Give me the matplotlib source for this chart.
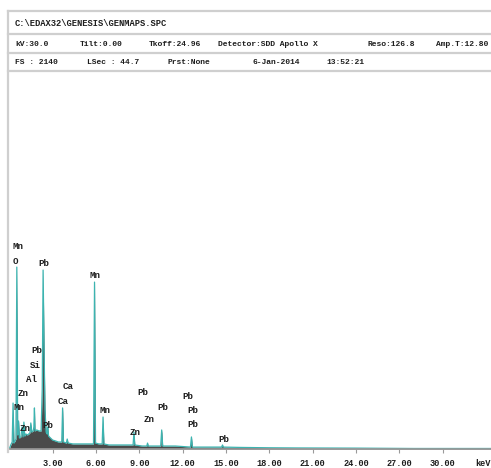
import numpy as np
import matplotlib
matplotlib.use("Agg")
import matplotlib.pyplot as plt
from matplotlib.lines import Line2D

# spectrum (keV, counts)
energy = [0.00, 0.10, 0.20, 0.26, 0.32, 0.40, 0.46, 0.52, 0.58, 0.64, 0.70, 0.80,
          0.88, 0.95, 1.01, 1.07, 1.15, 1.25, 1.35, 1.43, 1.49, 1.55, 1.65, 1.70,
          1.74, 1.78, 1.90, 2.05, 2.20, 2.28, 2.34, 2.40, 2.47, 2.55, 2.62, 2.66,
          2.72, 2.85, 3.00, 3.20, 3.40, 3.63, 3.69, 3.75, 3.95, 4.01, 4.07, 4.40,
          4.80, 5.20, 5.60, 5.83, 5.90, 5.97, 6.20, 6.43, 6.49, 6.55, 6.90, 7.50,
          8.00, 8.57, 8.63, 8.69, 9.20, 9.52, 9.57, 9.62, 10.10, 10.48, 10.55, 10.62,
          11.50, 12.54, 12.61, 12.68, 13.50, 14.70, 14.76, 14.82, 16.00, 18.00, 20.00,
          24.00, 28.00, 33.40]
counts = [0, 23, 40, 263, 34, 46, 57, 1041, 80, 160, 63, 69,
          126, 69, 154, 74, 86, 80, 86, 92, 149, 97, 103, 126,
          235, 103, 109, 103, 103, 343, 1024, 629, 229, 97, 86, 126,
          74, 63, 51, 46, 40, 40, 235, 40, 34, 57, 34, 29,
          29, 29, 29, 29, 955, 34, 29, 29, 183, 29, 23, 23,
          23, 23, 97, 23, 17, 17, 34, 17, 17, 17, 109, 17,
          17, 11, 69, 11, 11, 11, 23, 11, 9, 7, 6,
          5, 3, 3]

# peak labels: (element, keV, counts)
labels = [("Mn", 0.60, 1161), ("O", 0.39, 1070), ("Pb", 2.40, 1064), ("Mn", 5.93, 995),
          ("Pb", 1.92, 561), ("Si", 1.78, 475), ("Al", 1.57, 395), ("Zn", 0.95, 315),
          ("Mn", 0.67, 235), ("Zn", 1.09, 120), ("Pb", 2.68, 132), ("Ca", 4.06, 355),
          ("Ca", 3.72, 269), ("Mn", 6.63, 223), ("Zn", 8.70, 92), ("Pb", 9.26, 326),
          ("Zn", 9.67, 166), ("Pb", 10.64, 240), ("Pb", 12.37, 303), ("Pb", 12.72, 223),
          ("Pb", 12.72, 143), ("Pb", 14.86, 57)]

tick_values = [3, 6, 9, 12, 15, 18, 21, 24, 27, 30]
full_scale = 2140

header_rows = [
    [("C:\\EDAX32\\GENESIS\\GENMAPS.SPC", 15)],
    [("kV:30.0", 15), ("Tilt:0.00", 80), ("Tkoff:24.96", 149),
     ("Detector:SDD Apollo X", 218), ("Reso:126.8", 367), ("Amp.T:12.80", 436)],
    [("FS : 2140", 15), ("LSec : 44.7", 87), ("Prst:None", 168),
     ("6-Jan-2014", 252), ("13:52:21", 326)],
]

W, H = 491, 468
fig = plt.figure(figsize=(W / 100, H / 100), dpi=100)
mono = "Liberation Mono"
grey = "#cfcfcf"
ink = "#1e1e1e"

def fx(px):
    return px / W

def fy(py):
    return 1 - py / H

# header box
for py in [11, 34, 53, 71]:
    fig.add_artist(Line2D([fx(8), 1.0], [fy(py), fy(py)], color=grey, lw=1.6))
fig.add_artist(Line2D([fx(8), fx(8)], [fy(11), fy(452)], color=grey, lw=1.6))

row_y = [24, 44, 63]
sizes = [6.3, 5.8, 5.8]
for row, py, fs in zip(header_rows, row_y, sizes):
    for txt, px in row:
        fig.text(fx(px), fy(py), txt, family=mono, weight="bold", fontsize=fs,
                 color=ink, va="center", ha="left")

# spectrum axes
x0 = 9.3
ax = fig.add_axes([fx(x0), fy(449), 1 - fx(x0), fy(75) - fy(449)])
ax.fill_between(energy, counts, 0, color="#4a4a4a", lw=0)
ax.plot(energy, counts, color="#3cb4b0", lw=0.9)
ax.set_xlim(0, (W - x0) / 14.444)
ax.set_ylim(0, full_scale)

for name, e, c in labels:
    ax.text(e, c, name, family=mono, weight="bold", fontsize=6.6, color=ink,
            ha="center", va="center")

for s in ["top", "right", "left"]:
    ax.spines[s].set_visible(False)
ax.spines["bottom"].set_color("#9a9a9a")
ax.spines["bottom"].set_linewidth(1.2)
ax.set_yticks([])
ax.set_xticks(tick_values)
ax.set_xticklabels(["%.2f" % t for t in tick_values], family=mono, weight="bold",
                   fontsize=6.2, color=ink)
ax.tick_params(axis="x", length=3, width=0.8, color="#9a9a9a", pad=4)
fig.text(fx(483), fy(463), "keV", family=mono, weight="bold", fontsize=6.2,
         color=ink, ha="center", va="center")

fig.savefig("out.png", dpi=100)
